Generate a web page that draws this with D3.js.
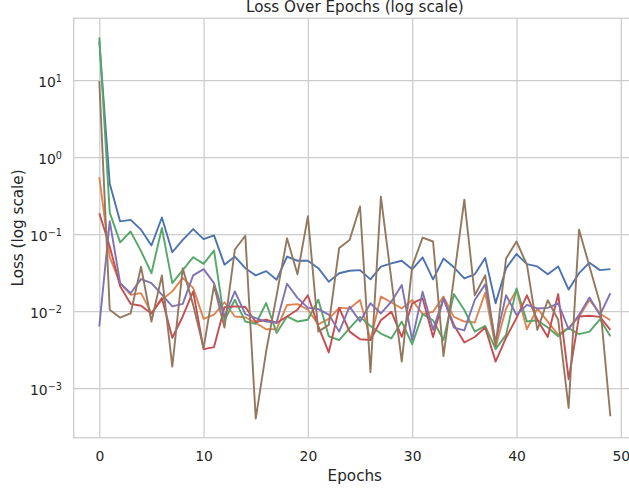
<!DOCTYPE html>
<html>
<head>
<meta charset="utf-8">
<script src="https://cdn.jsdelivr.net/npm/d3@7"></script>
<style>
  html, body { margin: 0; padding: 0; background: #fff; }
  svg { display: block; font-family: "DejaVu Sans", sans-serif; }
</style>
</head>
<body>
<div id="chart"></div>
<script>
// loss per epoch, six runs
const epochs = d3.range(50);

const run0 = [32, 0.45, 0.146, 0.153, 0.114, 0.071, 0.164, 0.058, 0.084, 0.116,
  0.086, 0.096, 0.040, 0.051, 0.036, 0.029, 0.033, 0.0255, 0.051, 0.045,
  0.045, 0.036, 0.024, 0.031, 0.0334, 0.034, 0.0258, 0.0377, 0.0416, 0.045,
  0.0348, 0.0498, 0.0258, 0.048, 0.037, 0.0265, 0.030, 0.049, 0.0126, 0.0358,
  0.055, 0.0407, 0.038, 0.030, 0.038, 0.019, 0.031, 0.0425, 0.034, 0.035];

const run1 = [0.55, 0.05, 0.023, 0.0163, 0.0171, 0.0094, 0.014, 0.018, 0.027, 0.020,
  0.0079, 0.009, 0.013, 0.0085, 0.0083, 0.0070, 0.0058, 0.0058, 0.012, 0.0123,
  0.0104, 0.0067, 0.0079, 0.011, 0.0108, 0.0139, 0.0042, 0.0154, 0.013, 0.0108,
  0.0139, 0.0091, 0.0098, 0.0154, 0.0084, 0.0073, 0.0071, 0.0173, 0.0034, 0.0108,
  0.0187, 0.0058, 0.0108, 0.0073, 0.0049, 0.0061, 0.0084, 0.0139, 0.0093, 0.0076];

const run2 = [35.9, 0.19, 0.078, 0.108, 0.060, 0.031, 0.120, 0.023, 0.034, 0.050,
  0.041, 0.061, 0.0075, 0.014, 0.0073, 0.0068, 0.0127, 0.0052, 0.0085, 0.0073,
  0.0077, 0.014, 0.0047, 0.0042, 0.0060, 0.0084, 0.0064, 0.0051, 0.0044, 0.0073,
  0.0037, 0.0091, 0.0076, 0.0042, 0.0166, 0.0103, 0.0054, 0.0064, 0.0032, 0.0049,
  0.0197, 0.0073, 0.0076, 0.0061, 0.0047, 0.0060, 0.0050, 0.0054, 0.0078, 0.0047];

const run3 = [0.186, 0.069, 0.021, 0.0124, 0.0117, 0.0093, 0.0148, 0.0045, 0.0085, 0.018,
  0.0032, 0.0034, 0.0112, 0.0115, 0.0113, 0.0072, 0.0077, 0.0070, 0.0085, 0.0104,
  0.016, 0.0063, 0.0029, 0.011, 0.0054, 0.0043, 0.0042, 0.0076, 0.0098, 0.0046,
  0.0126, 0.0146, 0.0046, 0.0146, 0.0066, 0.0039, 0.0046, 0.0061, 0.0022, 0.0045,
  0.0081, 0.016, 0.0077, 0.0046, 0.0166, 0.0013, 0.0085, 0.0087, 0.0084, 0.0057];

const run4 = [0.0063, 0.147, 0.023, 0.017, 0.026, 0.023, 0.0163, 0.0115, 0.0124, 0.029,
  0.035, 0.023, 0.0085, 0.018, 0.0091, 0.0081, 0.0073, 0.0071, 0.0226, 0.0148,
  0.011, 0.0106, 0.009, 0.0054, 0.0114, 0.0073, 0.0126, 0.0093, 0.0132, 0.0218,
  0.0042, 0.0178, 0.0057, 0.0146, 0.0061, 0.0056, 0.0139, 0.0222, 0.0040, 0.0161,
  0.0089, 0.012, 0.0108, 0.011, 0.0126, 0.0058, 0.0089, 0.015, 0.0089, 0.017];

const run5 = [9.7, 0.0104, 0.0082, 0.0093, 0.0376, 0.0073, 0.029, 0.0019, 0.036, 0.012,
  0.0033, 0.0215, 0.0061, 0.063, 0.095, 0.0004, 0.003, 0.016, 0.088, 0.030,
  0.17, 0.0054, 0.0066, 0.066, 0.084, 0.228, 0.0016, 0.305, 0.026, 0.0022,
  0.038, 0.090, 0.080, 0.0026, 0.027, 0.28, 0.016, 0.029, 0.0035, 0.048,
  0.080, 0.040, 0.0057, 0.0138, 0.0077, 0.00055, 0.114, 0.038, 0.0127, 0.00043];

const runs = [run0, run1, run2, run3, run4, run5];
const colors = ["#4c72b0", "#dd8452", "#55a868", "#c44e52", "#8172b3", "#937860"];

const xTicks = [0, 10, 20, 30, 40, 50];
const yExponents = [-3, -2, -1, 0, 1];

const width = 629, height = 488;
const plot = { left: 73.75, right: 635.9, top: 18.3, bottom: 437.7 };
const ink = "#262626", gridColor = "#cccccc";

const svg = d3.select("#chart").append("svg")
  .attr("width", width)
  .attr("height", height);

svg.append("rect").attr("width", width).attr("height", height).attr("fill", "#fff");

// x has matplotlib's 5% margins, y the same in log space
const x = d3.scaleLinear()
  .domain([-0.05 * 49, 49 * 1.05])
  .range([plot.left, plot.right]);

const all = runs.flat();
const lo = Math.log10(d3.min(all)), hi = Math.log10(d3.max(all));
const pad = (hi - lo) * 0.05;
const y = d3.scaleLog()
  .domain([10 ** (lo - pad), 10 ** (hi + pad)])
  .range([plot.bottom, plot.top]);

// grid + x ticks
const gx = svg.append("g")
  .attr("transform", `translate(0,${plot.bottom})`)
  .call(d3.axisBottom(x).tickValues(xTicks).tickSize(-(plot.bottom - plot.top)));
gx.select(".domain").remove();
gx.selectAll("line").attr("stroke", gridColor).attr("stroke-width", 1.25);
gx.selectAll("text")
  .attr("y", 23).attr("dy", 0)
  .attr("fill", ink)
  .style("font-size", "13.9px")
  .style("font-family", "DejaVu Sans");

// grid + y ticks (10^n)
const gy = svg.append("g")
  .attr("transform", `translate(${plot.left},0)`)
  .call(d3.axisLeft(y).tickValues(yExponents.map(e => 10 ** e)).tickSize(-(plot.right - plot.left)));
gy.select(".domain").remove();
gy.selectAll("line").attr("stroke", gridColor).attr("stroke-width", 1.25);
gy.selectAll("text")
  .attr("x", -11.75).attr("y", 6.4).attr("dy", 0)
  .attr("fill", ink)
  .attr("text-anchor", "end")
  .style("font-size", "13.9px")
  .style("font-family", "DejaVu Sans")
  .each(function(d) {
    const t = d3.select(this).text("10");
    const e = Math.round(Math.log10(d));
    t.append("tspan")
      .attr("dy", -4.8)
      .style("font-size", "9.7px")
      .text(e < 0 ? "\u2212" + (-e) : String(e));
  });

// loss lines
const line = d3.line()
  .x((d, i) => x(epochs[i]))
  .y(d => y(d));

svg.append("g")
  .selectAll("path")
  .data(runs)
  .join("path")
    .attr("d", line)
    .attr("fill", "none")
    .attr("stroke", (d, i) => colors[i])
    .attr("stroke-width", 1.9)
    .attr("stroke-linejoin", "round");

// spines
svg.append("rect")
  .attr("x", plot.left).attr("y", plot.top)
  .attr("width", plot.right - plot.left).attr("height", plot.bottom - plot.top)
  .attr("fill", "none").attr("stroke", gridColor).attr("stroke-width", 1.25);

// title and axis labels
svg.append("text")
  .attr("x", (plot.left + plot.right) / 2).attr("y", 12)
  .attr("text-anchor", "middle").attr("fill", ink)
  .style("font-size", "15.2px")
  .text("Loss Over Epochs (log scale)");

svg.append("text")
  .attr("x", (plot.left + plot.right) / 2).attr("y", 480.7)
  .attr("text-anchor", "middle").attr("fill", ink)
  .style("font-size", "15.2px")
  .text("Epochs");

svg.append("text")
  .attr("transform", `translate(22.5,${(plot.top + plot.bottom) / 2}) rotate(-90)`)
  .attr("text-anchor", "middle").attr("fill", ink)
  .style("font-size", "15.2px")
  .text("Loss (log scale)");
</script>
</body>
</html>
